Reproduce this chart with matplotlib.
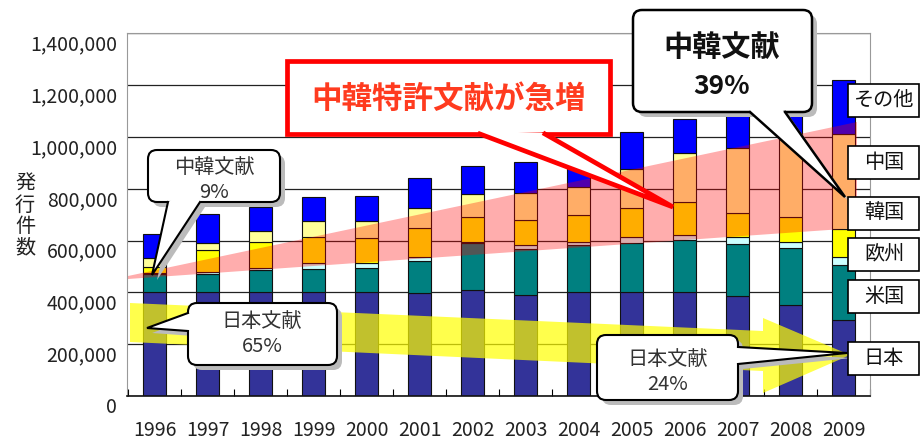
import numpy as np
import matplotlib
matplotlib.use("Agg")
import matplotlib.pyplot as plt
import matplotlib.transforms as mtransforms
from matplotlib.patches import Polygon, FancyBboxPatch, Rectangle
from matplotlib.ticker import FuncFormatter

# 日本語フォント
plt.rcParams["font.family"] = ["Noto Sans CJK JP", "DejaVu Sans"]

# 年
years = ['1996', '1997', '1998', '1999', '2000', '2001', '2002',
         '2003', '2004', '2005', '2006', '2007', '2008', '2009']

# 発行件数（千件）
japan = [401, 402, 403, 403, 402, 398, 409, 390, 403, 403, 403, 386, 351, 295]
usa = [69, 68, 85, 87, 91, 124, 181, 176, 180, 189, 199, 201, 219, 210]
europe = [4, 10, 8, 22, 19, 16, 6, 17, 13, 23, 20, 28, 26, 33]
korea = [23, 84, 100, 100, 99, 109, 96, 97, 103, 110, 128, 90, 96, 105]
china = [35, 28, 41, 65, 65, 78, 87, 103, 109, 150, 187, 251, 316, 370]
other = [92, 109, 91, 92, 96, 118, 109, 119, 72, 143, 131, 149, 107, 207]

series_names = ['日本', '米国', '欧州', '韓国', '中国', 'その他']
series_values = [japan, usa, europe, korea, china, other]
series_colors = ['#333399', '#008080', '#CCFFFF', '#FFFF00', '#FFFF99', '#0000FF']

fig = plt.figure(figsize=(9.21, 4.4), dpi=100)
ax = fig.add_axes([127 / 921, 44 / 440, 743 / 921, 362.6 / 440])

# 積み上げ棒グラフ
x = np.arange(len(years))
bottom = np.zeros(len(years))
for name, vals, col in zip(series_names, series_values, series_colors):
    v = np.array(vals) * 1000
    ax.bar(x, v, 0.42, bottom=bottom, color=col, edgecolor='#111111',
           linewidth=0.8, label=name, zorder=2)
    bottom += v

ax.set_xlim(-0.52, 13.48)
ax.set_ylim(0, 1400000)
ax.set_yticks(np.arange(0, 1400001, 200000))
ax.yaxis.set_major_formatter(FuncFormatter(lambda v, p: f'{int(v):,}'))
ax.set_xticks(x)
ax.set_xticklabels(years)
ax.set_xticks(np.arange(-0.5, 14, 1), minor=True)
ax.yaxis.grid(True, color='#222222', linewidth=0.9, zorder=0)
ax.set_axisbelow(True)

ax.tick_params(axis='y', length=0, pad=7, labelsize=14, labelcolor='#222222')
ax.tick_params(axis='x', which='major', length=0, pad=17, labelsize=14,
               labelcolor='#222222')
ax.tick_params(axis='x', which='minor', direction='in', length=5, width=0.8)
for s in ['left', 'top', 'right']:
    ax.spines[s].set_color('#999999')
ax.spines['bottom'].set_color('#111111')
ax.spines['bottom'].set_linewidth(1.2)

# 目盛ラベルを少し下にずらす
offset = mtransforms.ScaledTranslation(0, -9 / 100, fig.dpi_scale_trans)
for lab in ax.get_yticklabels():
    lab.set_transform(lab.get_transform() + offset)

fig.text(25 / 921, 1 - 216 / 440, '発\n行\n件\n数', ha='center', va='center',
         fontsize=14.5, linespacing=1.0, color='#222222')

# 注釈用のオーバーレイ（ピクセル座標）
ov = fig.add_axes([0, 0, 1, 1], zorder=5)
ov.set_xlim(0, 921)
ov.set_ylim(440, 0)
ov.axis('off')
ov.patch.set_alpha(0)

# ピンクの楔（中韓の増加）
ov.add_patch(Polygon([(128, 276), (857, 122), (857, 228), (128, 279)],
                     closed=True, fc='#FF0000', ec='none', alpha=0.32, zorder=1))
# 黄色の矢印（日本の減少）
ov.add_patch(Polygon([(130, 303), (763, 331), (763, 318), (850, 355),
                      (763, 393), (763, 371), (130, 342)],
                     closed=True, fc='#FFFF00', ec='none', alpha=0.7, zorder=1))


def callout(x0, y0, x1, y1, a, tip, b, ec='black', lw=1.5, shadow=True,
            rounded=True, z=4):
    cx, cy = (x0 + x1) / 2, (y0 + y1) / 2

    def inward(p):
        d = np.array([cx - p[0], cy - p[1]])
        d = d / np.hypot(*d)
        return (p[0] + 4 * d[0], p[1] + 4 * d[1])

    style = "round,pad=0,rounding_size=9" if rounded else "square,pad=0"
    if shadow:
        ov.add_patch(FancyBboxPatch((x0 + 5, y0 + 5), x1 - x0, y1 - y0,
                                    boxstyle=style, fc='#BBBBBB', ec='none',
                                    zorder=z - 1))
        ov.add_patch(Polygon([(a[0] + 5, a[1] + 5), (tip[0] + 5, tip[1] + 5),
                              (b[0] + 5, b[1] + 5)], closed=True,
                             fc='#BBBBBB', ec='none', zorder=z - 1))
    ov.add_patch(FancyBboxPatch((x0, y0), x1 - x0, y1 - y0, boxstyle=style,
                                fc='white', ec=ec, lw=lw, zorder=z,
                                joinstyle='miter'))
    ov.add_patch(Polygon([inward(a), a, tip, b, inward(b)], closed=True,
                         fc='white', ec='none', zorder=z + 0.1))
    ov.plot([a[0], tip[0], b[0]], [a[1], tip[1], b[1]], color=ec, lw=lw,
            zorder=z + 0.2, solid_joinstyle='miter')


txt = dict(ha='center', va='center', color='#333333', fontsize=14.5)

# 中韓文献 9%
callout(148, 150, 280, 202, (168, 202), (152, 275), (200, 202))
ov.text(214, 168, '中韓文献', zorder=6, **txt)
ov.text(214, 193, '9%', zorder=6, **txt)

# 日本文献 65%
callout(188, 303, 337, 365, (188, 313), (147, 328), (188, 331))
ov.text(262, 322, '日本文献', zorder=6, **txt)
ov.text(262, 347, '65%', zorder=6, **txt)

# 日本文献 24%
callout(597, 335, 738, 400, (738, 347), (847, 353), (738, 364))
ov.text(668, 360, '日本文献', zorder=6, **txt)
ov.text(668, 385, '24%', zorder=6, **txt)

# 中韓文献 39%
callout(633, 10, 812, 112, (750, 112), (845, 197), (785, 112), lw=1.8)
ov.text(722, 47, '中韓文献', ha='center', va='center', color='#111111',
        fontsize=21, fontweight='bold', zorder=6)
ov.text(722, 87, '39%', ha='center', va='center', color='#111111',
        fontsize=19, fontweight='bold', zorder=6)

# 中韓特許文献が急増
callout(287, 61, 610, 134, (480, 134), (673, 207), (545, 134), ec='#FF0000',
        lw=3.4, shadow=False, rounded=False)
ov.text(449, 99, '中韓特許文献が急増', ha='center', va='center', color='#FF3B1F',
        fontsize=22, fontweight='bold', zorder=6)

# 右側の凡例ラベル
legend_y = [358, 296, 254, 213, 162, 100]
for name, yc in zip(series_names, legend_y):
    ov.add_patch(Rectangle((848, yc - 16), 71, 33, fc='white', ec='black',
                           lw=1.2, zorder=7))
    ov.text(884, yc, name, ha='center', va='center', fontsize=14.5,
            color='#111111', zorder=8)

fig.savefig('out.png', dpi=100)
